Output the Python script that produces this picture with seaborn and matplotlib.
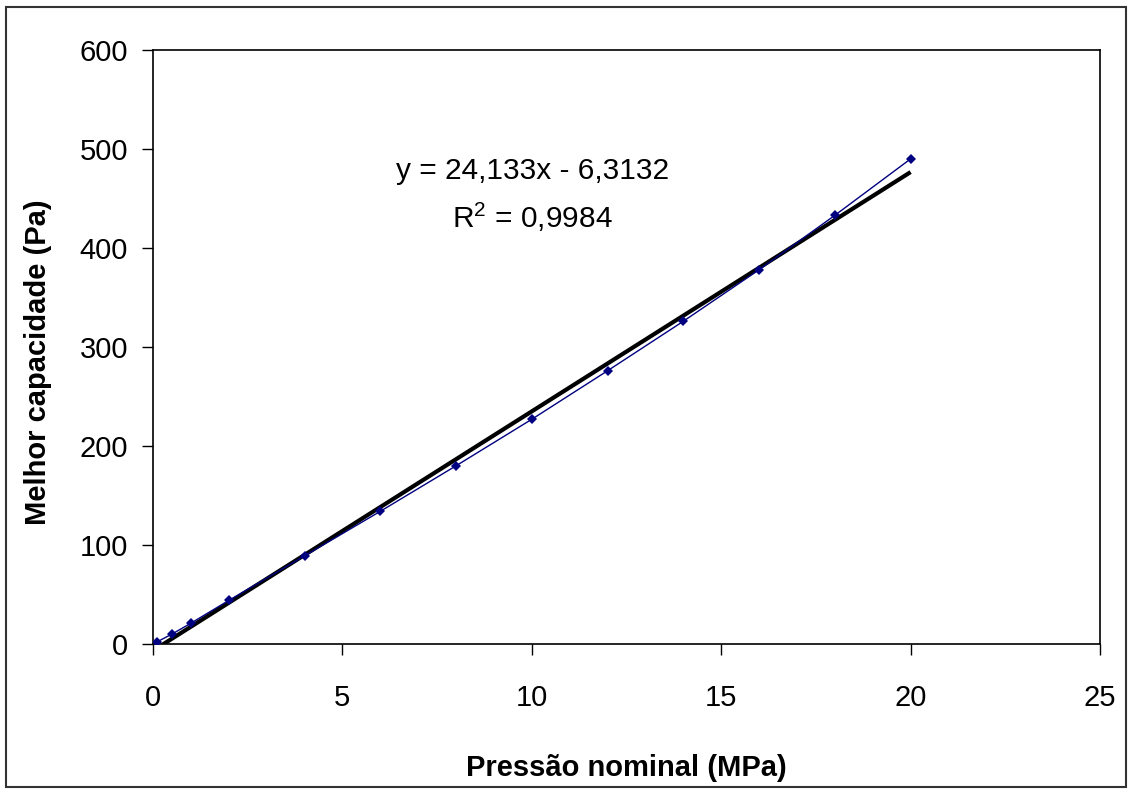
import matplotlib
matplotlib.use("Agg")
import matplotlib.pyplot as plt
import seaborn as sns
import pandas as pd
from matplotlib.patches import Rectangle

pressao = [0.1, 0.5, 1, 2, 4, 6, 8, 10, 12, 14, 16, 18, 20]
capacidade = [2, 10, 21, 44, 89, 134, 180, 227, 276, 326, 378, 433, 490]
x_ticks = [0, 5, 10, 15, 20, 25]
y_ticks = [0, 100, 200, 300, 400, 500, 600]
eq_text = "y = 24,133x - 6,3132"
r2_text = "R$^2$ = 0,9984"

sns.set_style("white")
plt.rcParams['font.family'] = ['Liberation Sans', 'DejaVu Sans']
plt.rcParams['mathtext.fontset'] = 'custom'
plt.rcParams['mathtext.rm'] = 'Liberation Sans'
plt.rcParams['mathtext.it'] = 'Liberation Sans'
plt.rcParams['text.color'] = 'black'
plt.rcParams['axes.labelcolor'] = 'black'

df = pd.DataFrame({"x": pressao, "y": capacidade})

fig = plt.figure(figsize=(11.28, 7.89), dpi=100)
ax = fig.add_axes([153/1128, 1-644/789, (1100-153)/1128, (644-50)/789])

sns.lineplot(data=df, x="x", y="y", ax=ax, color="#000080", lw=1,
             marker="D", markersize=5.5, markeredgewidth=0, zorder=3)
sns.regplot(data=df, x="x", y="y", ax=ax, scatter=False, ci=None,
            color="black", line_kws={"lw": 3, "solid_capstyle": "butt"})

ax.set_xlim(0, 25)
ax.set_ylim(0, 600)
ax.set_xticks(x_ticks)
ax.set_yticks(y_ticks)
ax.tick_params(axis='both', direction='out', length=8, width=1, colors='black',
               labelsize=21, bottom=True, left=True)
ax.tick_params(axis='x', pad=21)
ax.tick_params(axis='y', pad=10)
for s in ax.spines.values():
    s.set_color('black')
    s.set_linewidth(1.2)

ax.set_xlabel("Pressão nominal (MPa)", fontsize=21, fontweight='bold', labelpad=30)
ax.set_ylabel("Melhor capacidade (Pa)", fontsize=21, fontweight='bold', labelpad=16)
ax.yaxis.set_label_coords(-0.107, 0.475)

ax.text(10.02, 478, eq_text, fontsize=21.5, ha='center', va='center')
ax.text(10.02, 431, r2_text, fontsize=21.5, ha='center', va='center')

fig.patches.append(Rectangle((6/1128, 2/789), 1120/1128, 780/789,
                             transform=fig.transFigure, fill=False,
                             edgecolor='#333333', lw=1.5))

fig.savefig("out.png", dpi=100)
